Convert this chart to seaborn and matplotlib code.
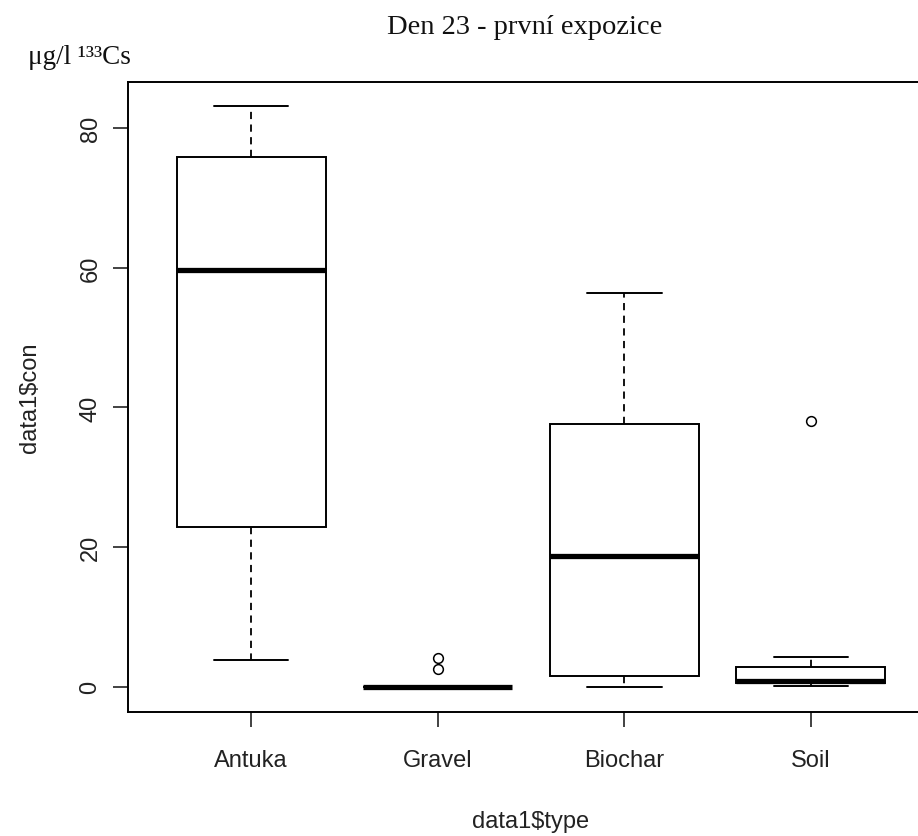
import matplotlib
matplotlib.use("Agg")
import matplotlib.pyplot as plt
import seaborn as sns
import pandas as pd

# values, per soil type
types = ["Antuka", "Gravel", "Biochar", "Soil"]
antuka = [3.9, 22.9, 59.7, 75.8, 83.1]
gravel = [0, 0, 0, 0, 0, 0, 0, 0, 0, 0, 2.5, 4.2]
biochar = [0.0, 1.6, 18.7, 37.6, 56.4]
soil = [0.1, 0.3, 0.6, 0.8, 0.9, 1.5, 2.8, 4.3, 38.1]

yticks = [0, 20, 40, 60, 80]

title = "Den 23 - první expozice"
unit_label = "μg/l ¹³³Cs"

# long format table for seaborn
df = pd.DataFrame({
    "type": ["Antuka"] * len(antuka) + ["Gravel"] * len(gravel)
            + ["Biochar"] * len(biochar) + ["Soil"] * len(soil),
    "con": antuka + gravel + biochar + soil,
})

sns.set_style("ticks")
plt.rcParams["font.family"] = ["Liberation Sans", "DejaVu Sans"]

W, H = 918, 837
fig = plt.figure(figsize=(W / 100, H / 100), dpi=100)
fig.patch.set_facecolor("white")

# R style plot region (right edge falls outside the picture, as in the reference)
ax = fig.add_axes([128 / W, (H - 713) / H, (934 - 128) / W, (713 - 83) / H])

sns.boxplot(
    data=df, x="type", y="con", order=types, ax=ax,
    color="white", linecolor="black", linewidth=1.4, width=0.8, whis=1.5,
    boxprops=dict(facecolor="white", edgecolor="black", linewidth=1.4),
    whiskerprops=dict(color="black", linewidth=1.3, linestyle=(0, (4, 3))),
    capprops=dict(color="black", linewidth=1.4),
    medianprops=dict(color="black", linewidth=3.8, solid_capstyle="butt"),
    flierprops=dict(marker="o", markerfacecolor="white", markeredgecolor="black",
                    markersize=7, markeredgewidth=1.1),
)

ax.set_xlim(-0.66, 3.66)
ax.set_ylim(-3.6, 86.6)
ax.set_yticks(yticks)
ax.set_yticklabels([str(v) for v in yticks], rotation=90, va="center")

for side in ["left", "bottom", "top", "right"]:
    ax.spines[side].set_visible(True)
    ax.spines[side].set_linewidth(1.4)
    ax.spines[side].set_color("black")

ax.tick_params(axis="both", direction="out", length=11, width=1.2,
               labelsize=17, colors="#222222")
ax.tick_params(axis="x", pad=16)
ax.tick_params(axis="y", pad=8)

ax.set_xlabel("data1$type", fontsize=17, color="#222222", labelpad=28)
ax.set_ylabel("data1$con", fontsize=17, color="#222222", labelpad=28)

fig.text(525 / W, 1 - 27 / H, title, family=["Liberation Serif", "DejaVu Serif"],
         fontsize=20.5, ha="center", va="center", color="#111111")
fig.text(28 / W, 1 - 57 / H, unit_label, family=["Liberation Serif", "DejaVu Serif"],
         fontsize=19.5, ha="left", va="center", color="#111111")

fig.savefig("out.png", dpi=100, facecolor="white")
